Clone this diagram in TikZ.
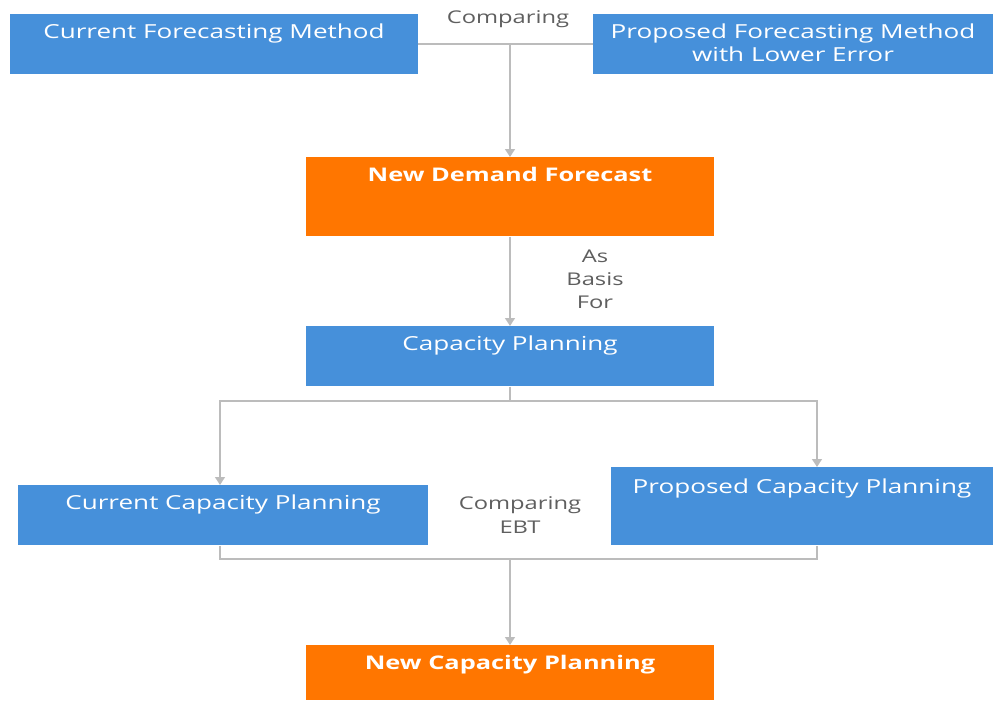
\documentclass[tikz,border=0pt]{standalone}
\usepackage{fontspec}
\setmainfont{Open Sans}[FakeStretch=1.35]
\usepackage{tikz}
\usetikzlibrary{positioning,arrows.meta}

\definecolor{boxblue}{RGB}{70,144,218}
\definecolor{boxorange}{RGB}{255,118,0}
\definecolor{linegray}{RGB}{188,188,188}
\definecolor{labelgray}{RGB}{95,95,95}

\begin{document}
\begin{tikzpicture}[font=\fontsize{10}{13.2}\selectfont]
\tikzstyle{box}=[rectangle, fill=boxblue, text=white, inner sep=0pt, anchor=north, align=center, text height=0.48cm, text depth=0.72cm, font=\fontsize{11}{13.2}\selectfont]
\tikzstyle{result}=[box, fill=boxorange, font=\fontsize{10.7}{13.2}\selectfont\bfseries]
\tikzstyle{note}=[text=labelgray, align=center, inner sep=0pt]
\tikzstyle{connect}=[draw=linegray, line width=1.1pt]
\tikzstyle{flow}=[connect, -{Triangle[width=5.5pt,length=4.5pt]}]
\fill[white] (0,0) rectangle (20.1,-14);
\useasboundingbox (0,0) rectangle (20.1,-14);
	% forecasting methods
	\node[box, minimum width=8.16cm] (cur_fc) at (4.28,-0.28) {Current Forecasting Method};
	\node[box, minimum width=8.0cm, text height=0.94cm, text depth=0.26cm] (prop_fc) at (15.86,-0.28) {Proposed Forecasting Method\\with Lower Error};
	\node[result, minimum width=8.16cm, text depth=1.10cm] (new_df) at (10.2,-3.14) {New Demand Forecast};
	\node[box, minimum width=8.16cm] (cap_pl) at (10.2,-6.52) {Capacity Planning};
	% capacity planning alternatives
	\node[box, minimum width=8.2cm] (cur_cp) at (4.46,-9.7) {Current Capacity Planning};
	\node[box, minimum width=7.64cm, text height=0.52cm, text depth=1.04cm] (prop_cp) at (16.04,-9.34) {Proposed Capacity Planning};
	\node[result, minimum width=8.16cm, text depth=0.62cm] (new_cp) at (10.2,-12.9) {New Capacity Planning};

	\node[note] (cmp_fc) at (10.16,-0.38) {Comparing};
	\node[note] (basis) at (11.9,-5.58) {As\\Basis\\For};
	\node[note] (cmp_ebt) at (10.4,-10.3) {Comparing\\EBT};

	\coordinate (join) at (10.2,-0.88);
	\coordinate (split) at (10.2,-8.02);
	\coordinate (merge) at (10.2,-11.18);

	\path[connect] (cur_fc.east) -- (prop_fc.west);
	\path[flow] (join) -- (new_df.north);
	\path[flow] (new_df.south) -- (cap_pl.north);
	\path[connect] (cap_pl.south) -- (split);
	\path[flow] (split) -| ([xshift=-0.06cm]cur_cp.north);
	\path[flow] (split) -| ([xshift=0.3cm]prop_cp.north);
	\path[connect] ([xshift=-0.06cm]cur_cp.south) |- (merge) -| ([xshift=0.3cm]prop_cp.south);
	\path[flow] (merge) -- (new_cp.north);

\end{tikzpicture}
\end{document}
